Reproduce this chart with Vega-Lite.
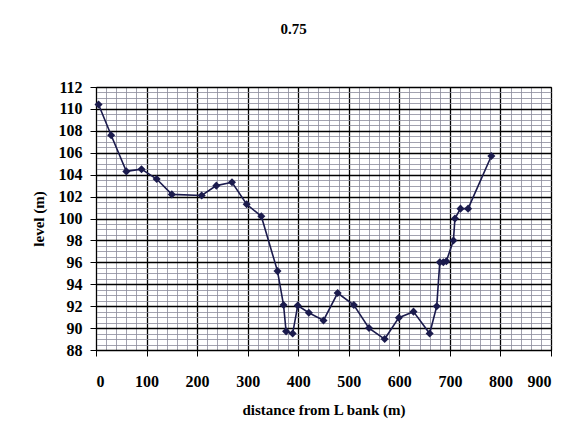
{
  "$schema": "https://vega.github.io/schema/vega-lite/v6.json",
  "autosize": "none",
  "width": 455,
  "height": 263,
  "padding": {"left": 96, "top": 87, "right": 20, "bottom": 87},
  "background": "white",
  "title": {"text": "0.75", "font": "Liberation Serif", "fontSize": 15, "fontWeight": "bold", "color": "black", "anchor": "middle", "dx": -30, "offset": 42},
  "config": {"view": {"stroke": "black", "strokeWidth": 1}},
  "data": {"values": [
    {"d": 5, "level": 110.4},
    {"d": 30, "level": 107.6},
    {"d": 60, "level": 104.3},
    {"d": 90, "level": 104.5},
    {"d": 120, "level": 103.6},
    {"d": 150, "level": 102.2},
    {"d": 209, "level": 102.1},
    {"d": 238, "level": 103.0},
    {"d": 269, "level": 103.3},
    {"d": 298, "level": 101.3},
    {"d": 327, "level": 100.2},
    {"d": 359, "level": 95.2},
    {"d": 371, "level": 92.1},
    {"d": 376, "level": 89.7},
    {"d": 389, "level": 89.5},
    {"d": 399, "level": 92.05},
    {"d": 421, "level": 91.4},
    {"d": 450, "level": 90.7},
    {"d": 478, "level": 93.2},
    {"d": 510, "level": 92.1},
    {"d": 540, "level": 90.0},
    {"d": 571, "level": 89.0},
    {"d": 599, "level": 90.95},
    {"d": 628, "level": 91.5},
    {"d": 660, "level": 89.5},
    {"d": 674, "level": 92.0},
    {"d": 680, "level": 96.0},
    {"d": 687, "level": 96.0},
    {"d": 693, "level": 96.1},
    {"d": 707, "level": 98.0},
    {"d": 710, "level": 100.0},
    {"d": 721, "level": 100.9},
    {"d": 736, "level": 100.9},
    {"d": 782, "level": 105.7}
  ]},
  "resolve": {"axis": {"x": "independent", "y": "independent"}},
  "layer": [
    {
      "mark": {"type": "point", "opacity": 0},
      "encoding": {
        "x": {"field": "d", "type": "quantitative", "scale": {"domain": [0, 900], "nice": false},
          "axis": {"orient": "bottom", "values": [20,40,60,80,120,140,160,180,220,240,260,280,320,340,360,380,420,440,460,480,520,540,560,580,620,640,660,680,720,740,760,780,820,840,860,880], "labels": false, "ticks": false, "domain": false, "title": null, "grid": true, "gridColor": "#8a8a9a", "gridWidth": 0.8, "gridOpacity": 1}},
        "y": {"field": "level", "type": "quantitative", "scale": {"domain": [88, 112], "nice": false, "zero": false},
          "axis": {"orient": "left", "values": [88.5,89,89.5,90.5,91,91.5,92.5,93,93.5,94.5,95,95.5,96.5,97,97.5,98.5,99,99.5,100.5,101,101.5,102.5,103,103.5,104.5,105,105.5,106.5,107,107.5,108.5,109,109.5,110.5,111,111.5], "labels": false, "ticks": false, "domain": false, "title": null, "grid": true, "gridColor": "#8a8a9a", "gridWidth": 0.8, "gridOpacity": 1}}
      }
    },
    {
      "mark": {"type": "line", "color": "#1b1b4d", "strokeWidth": 1.6},
      "encoding": {
        "x": {"field": "d", "type": "quantitative", "scale": {"domain": [0, 900], "nice": false},
          "axis": {"orient": "bottom", "values": [0,100,200,300,400,500,600,700,800,900], "grid": true, "gridColor": "black", "gridWidth": 1.3, "gridOpacity": 1, "domainColor": "black", "tickColor": "black", "tickSize": 6, "labelPadding": 17, "labelFont": "Liberation Serif", "labelFontSize": 16, "labelFontWeight": "bold", "labelColor": "black", "title": "distance from L bank (m)", "titleFont": "Liberation Serif", "titleFontSize": 15, "titleFontWeight": "bold", "titleColor": "black", "titlePadding": 13}},
        "y": {"field": "level", "type": "quantitative", "scale": {"domain": [88, 112], "nice": false, "zero": false},
          "axis": {"orient": "left", "values": [88,90,92,94,96,98,100,102,104,106,108,110,112], "grid": true, "gridColor": "black", "gridWidth": 1.3, "gridOpacity": 1, "domainColor": "black", "tickColor": "black", "tickSize": 6, "labelPadding": 8, "labelFont": "Liberation Serif", "labelFontSize": 16, "labelFontWeight": "bold", "labelColor": "black", "title": "level (m)", "titleFont": "Liberation Serif", "titleFontSize": 15, "titleFontWeight": "bold", "titleColor": "black", "titlePadding": 12}}
      }
    },
    {
      "mark": {"type": "point", "shape": "diamond", "filled": true, "color": "#1b1b4d", "size": 65, "opacity": 1},
      "encoding": {
        "x": {"field": "d", "type": "quantitative", "axis": null},
        "y": {"field": "level", "type": "quantitative", "axis": null}
      }
    }
  ]
}
